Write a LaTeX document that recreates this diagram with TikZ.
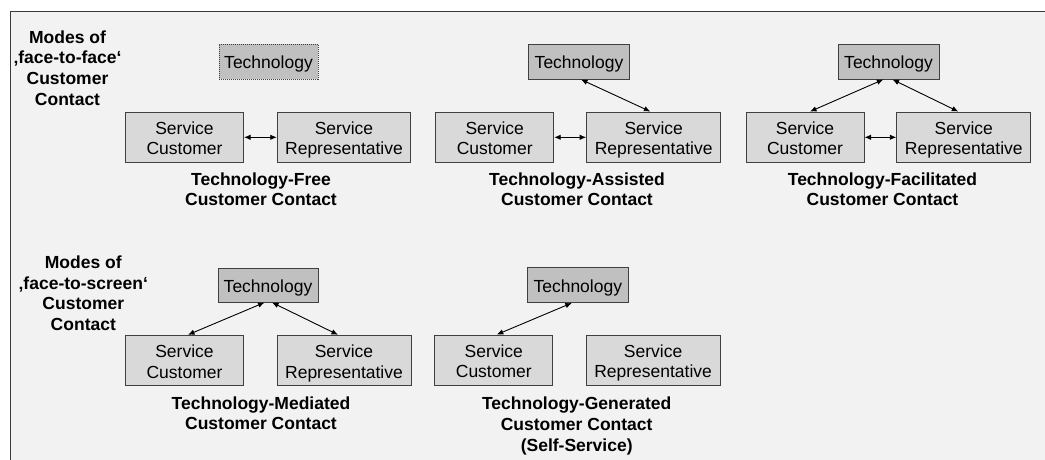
\documentclass[tikz,border=0pt]{standalone}
\usepackage{fontspec}
\setmainfont{Liberation Sans}
\usetikzlibrary{arrows.meta}
\definecolor{bg}{HTML}{F2F2F2}
\definecolor{frameline}{HTML}{3A3A3A}
\definecolor{boxline}{HTML}{404040}
\definecolor{techfill}{HTML}{C0C0C0}
\definecolor{svcfill}{HTML}{D9D9D9}
\newcommand\topstr{\rule{0pt}{18.5pt}}
\newcommand\botstr{\rule[-3.9pt]{0pt}{3.9pt}}
\begin{document}
\begin{tikzpicture}[x=1pt,y=-1pt,
  box/.style={draw=boxline, line width=1pt, inner sep=0pt, align=center, font=\fontsize{17.5}{20.7}\selectfont},
  tech/.style={box, fill=techfill, minimum height=35pt},
  svc/.style={box, fill=svcfill, minimum height=50.5pt},
  lbl/.style={align=center, font=\fontsize{17.5}{20.7}\selectfont\bfseries, inner sep=0pt},
  conn/.style={{Latex[length=6.5pt,width=5.5pt]}-{Latex[length=6.5pt,width=5.5pt]}, line width=0.9pt, draw=black}
]
\useasboundingbox (0,0) rectangle (1045,459);
\clip (0,0) rectangle (1045,459);
\draw[fill=bg, draw=frameline, line width=1pt] (10.5,11) rectangle (1060,470);

% modes labels
\node[lbl] (m1) at (67.5,67) {\topstr Modes of\\‚face-to-face‘\\Customer\\Contact\botstr};
\node[lbl] (m2) at (83.3,292.3) {\topstr Modes of\\‚face-to-screen‘\\Customer\\Contact\botstr};

% panel 1
\node[tech, densely dotted, minimum width=99pt] (t1) at (268.5,61.5) {\topstr Technology\botstr};
\node[svc, minimum width=118pt] (c1) at (184.5,137.3) {\topstr Service\\Customer\botstr};
\node[svc, minimum width=133.5pt] (r1) at (344,137.3) {\topstr Service\\Representative\botstr};
\node[lbl] (l1) at (261,188.2) {\topstr Technology-Free\\Customer Contact\botstr};
\draw[conn] (c1) -- (r1);

% panel 2
\node[tech, minimum width=101pt] (t2) at (579,61.5) {\topstr Technology\botstr};
\node[svc, minimum width=118pt] (c2) at (494.7,137.3) {\topstr Service\\Customer\botstr};
\node[svc, minimum width=134pt] (r2) at (653.7,137.3) {\topstr Service\\Representative\botstr};
\node[lbl] (l2) at (577,188.2) {\topstr Technology-Assisted\\Customer Contact\botstr};
\draw[conn] (c2) -- (r2);
\draw[conn] ([xshift=2pt]t2.south) -- ([xshift=-3.3pt]r2.north);

% panel 3
\node[tech, minimum width=101pt] (t3) at (888.5,61.5) {\topstr Technology\botstr};
\node[svc, minimum width=118pt] (c3) at (805,137.3) {\topstr Service\\Customer\botstr};
\node[svc, minimum width=134pt] (r3) at (963.8,137.3) {\topstr Service\\Representative\botstr};
\node[lbl] (l3) at (882.5,188.2) {\topstr Technology-Facilitated\\Customer Contact\botstr};
\draw[conn] (c3) -- (r3);
\draw[conn] ([xshift=-5.2pt]t3.south) -- ([xshift=5pt]c3.north);
\draw[conn] ([xshift=4pt]t3.south) -- ([xshift=-5.5pt]r3.north);

% panel 4
\node[tech, minimum width=100pt, minimum height=34pt] (t4) at (268,285) {\topstr Technology\botstr};
\node[svc, minimum width=118pt] (c4) at (184.5,360.5) {\topstr Service\\Customer\botstr};
\node[svc, minimum width=134pt] (r4) at (344,360.5) {\topstr Service\\Representative\botstr};
\node[lbl] (l4) at (261,412.3) {\topstr Technology-Mediated\\Customer Contact\botstr};
\draw[conn] ([xshift=-3.5pt]t4.south) -- ([xshift=3.5pt]c4.north);
\draw[conn] ([xshift=4pt]t4.south) -- ([xshift=-6pt]r4.north);

% panel 5
\node[tech, minimum width=101pt, minimum height=35pt] (t5) at (577.8,285) {\topstr Technology\botstr};
\node[svc, minimum width=118pt] (c5) at (493.8,360.3) {\topstr Service\\Customer\botstr};
\node[svc, minimum width=134pt] (r5) at (653.1,360.3) {\topstr Service\\Representative\botstr};
\node[lbl] (l5) at (576.7,423.2) {\topstr Technology-Generated\\Customer Contact\\(Self-Service)\botstr};
\draw[conn] ([xshift=-6pt]t5.south) -- ([xshift=3pt]c5.north);
\end{tikzpicture}
\end{document}
